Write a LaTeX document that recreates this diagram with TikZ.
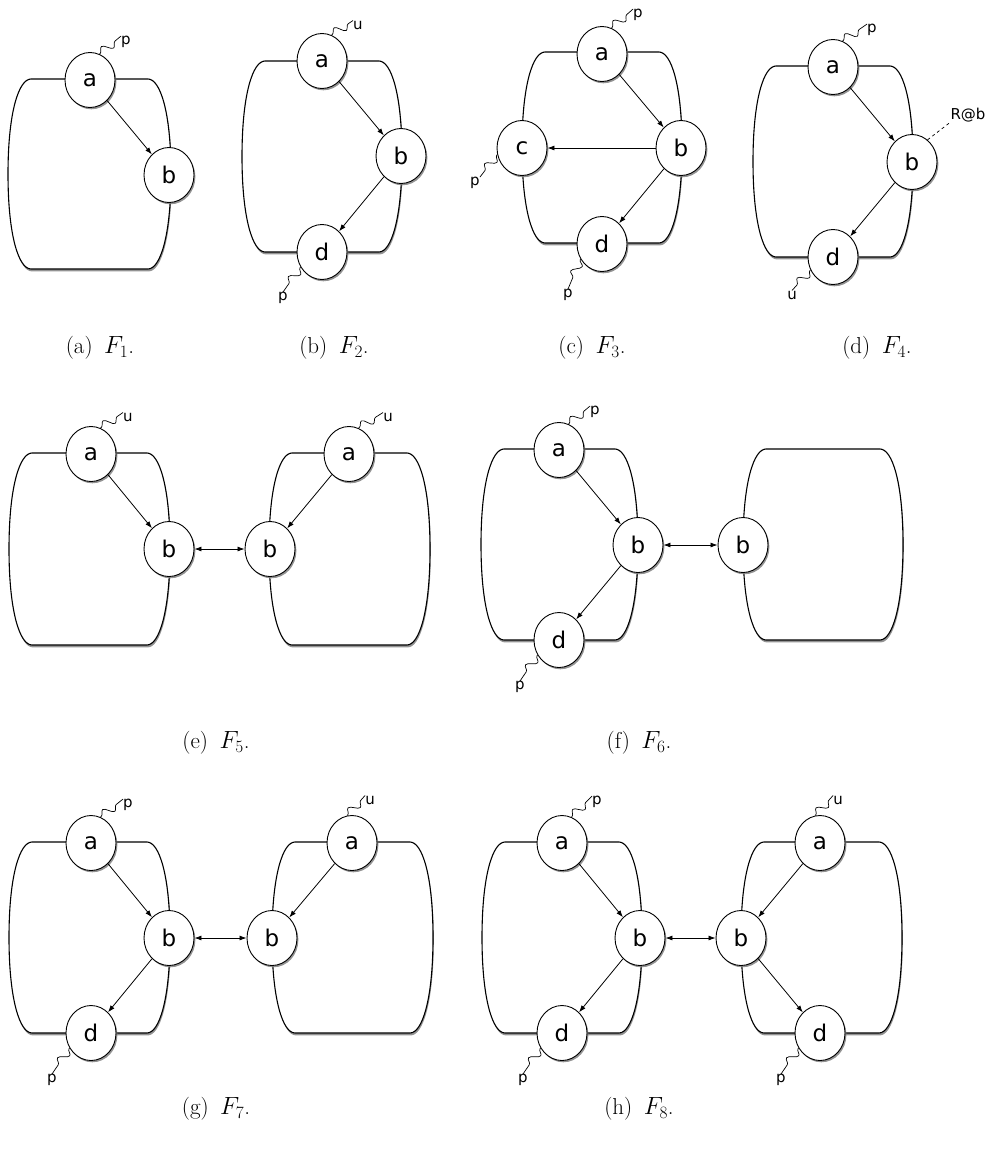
\documentclass[tikz,border=0pt]{standalone}
\usepackage{fontspec}
\newfontfamily\nodefont{DejaVu Sans}
\usepackage{tikz}
\usetikzlibrary{shapes.geometric, arrows.meta, positioning, calc, shadows, decorations.pathmorphing}
\tikzset{
	box/.style      ={draw=black, line width=1.1pt, fill=white, drop shadow={shadow xshift=0.8pt, shadow yshift=-2.4pt, opacity=0.85}},
	st/.style       ={ellipse, draw=black, line width=0.9pt, fill=white, minimum width=50pt, minimum height=55pt, inner sep=0pt, font=\nodefont\fontsize{23}{23}\selectfont, drop shadow={shadow xshift=1.4pt, shadow yshift=-1.8pt, opacity=0.85}},
	lbl/.style      ={font=\nodefont\fontsize{15}{15}\selectfont, inner sep=0pt},
	subcap/.style   ={font=\fontsize{23}{27}\selectfont},
	flowarrow/.style={-{Latex[length=7pt,width=5pt]}, line width=0.8pt},
	linkarrow/.style={{Latex[length=7pt,width=5pt]}-{Latex[length=7pt,width=5pt]}, line width=0.8pt},
	wave/.style     ={decorate, decoration={snake, amplitude=4.5pt, segment length=17pt, pre length=1pt, post length=4pt}, line width=0.7pt},
}
% barrel-shaped region: left, right, top, bottom
\newcommand{\barrel}[4]{%
	\draw[box] ({#1+23},#3) -- ({#2-23},#3)
		.. controls ({#2-11},#3) and (#2,{#3+0.17*(#4-#3)}) .. (#2,{(#3+#4)/2})
		.. controls (#2,{#4-0.17*(#4-#3)}) and ({#2-11},#4) .. ({#2-23},#4)
		-- ({#1+23},#4)
		.. controls ({#1+11},#4) and (#1,{#4-0.17*(#4-#3)}) .. (#1,{(#3+#4)/2})
		.. controls (#1,{#3+0.17*(#4-#3)}) and ({#1+11},#3) .. cycle;}

\begin{document}
\begin{tikzpicture}[x=1pt, y=-1pt]
	\useasboundingbox (0,0) rectangle (995,1149);
	% F1
	\barrel{8}{171}{79}{269}
	\node[st] (a1) at (90,80) {a};
	\node[st] (b1) at (169,175) {b};
	\node[lbl] (p1) at ([shift={(36,-38)}]a1) {p};
	\draw[flowarrow] (a1) -- (b1);
	\draw[wave] (a1.70) -- (p1.north west);
	\node[subcap] (cap1) at (100,348) {(a)\hspace{0.5em}$F_1$.};
	% F2
	\barrel{242}{402}{61}{252}
	\node[st] (a2) at (322,61) {a};
	\node[st] (b2) at (401,156) {b};
	\node[st] (d2) at (322,252) {d};
	\node[lbl] (u2) at ([shift={(36,-36)}]a2) {u};
	\node[lbl] (p2) at ([shift={(-39,46)}]d2) {p};
	\draw[flowarrow] (a2) -- (b2); \draw[flowarrow] (b2) -- (d2);
	\draw[wave] (a2.70) -- (u2.north west); \draw[wave] (d2.215) -- (p2.north);
	\node[subcap] (cap2) at (334,348) {(b)\hspace{0.5em}$F_2$.};
	% F3
	\barrel{522}{682}{52}{243}
	\node[st] (a3) at (602,54) {a};
	\node[st] (b3) at (681,148) {b};
	\node[st] (c3) at (522,148) {c};
	\node[st] (d3) at (602,244) {d};
	\node[lbl] (p3a) at ([shift={(36,-39)}]a3) {p};
	\node[lbl] (p3c) at ([shift={(-47,35)}]c3) {p};
	\node[lbl] (p3d) at ([shift={(-34,51)}]d3) {p};
	\draw[flowarrow] (a3) -- (b3); \draw[flowarrow] (b3) -- (c3); \draw[flowarrow] (b3) -- (d3);
	\draw[wave] (a3.70) -- (p3a.north west); \draw[wave] (c3.195) -- (p3c.north east); \draw[wave] (d3.215) -- (p3d.north);
	\node[subcap] (cap3) at (592,348) {(c)\hspace{0.5em}$F_3$.};
	% F4
	\barrel{753}{913}{66}{257}
	\node[st] (a4) at (833,67) {a};
	\node[st] (b4) at (912,162) {b};
	\node[st] (d4) at (833,257) {d};
	\node[lbl] (p4) at ([shift={(39,-37)}]a4) {p};
	\node[lbl] (u4) at ([shift={(-41,38)}]d4) {u};
	\node[lbl] (r4) at ([shift={(56,-47)}]b4) {R@b};
	\draw[flowarrow] (a4) -- (b4); \draw[flowarrow] (b4) -- (d4);
	\draw[wave] (a4.70) -- (p4.north west); \draw[wave] (d4.210) -- (u4.north);
	\draw[dashed, line width=0.7pt] (b4.55) -- (r4.south west);
	\node[subcap] (cap4) at (877,348) {(d)\hspace{0.5em}$F_4$.};
	% F5
	\barrel{9}{170}{453}{645} \barrel{269}{430}{453}{645}
	\node[st] (a5) at (91,454) {a};
	\node[st] (b5) at (169,549) {b};
	\node[st] (a5r) at (349,454) {a};
	\node[st] (b5r) at (270,549) {b};
	\node[lbl] (u5) at ([shift={(37,-37)}]a5) {u};
	\node[lbl] (u5r) at ([shift={(39,-37)}]a5r) {u};
	\draw[flowarrow] (a5) -- (b5); \draw[flowarrow] (a5r) -- (b5r);
	\draw[linkarrow] (b5) -- (b5r);
	\draw[wave] (a5.70) -- (u5.north west); \draw[wave] (a5r.70) -- (u5r.north west);
	\node[subcap] (cap5) at (216,743) {(e)\hspace{0.5em}$F_5$.};
	% F6
	\barrel{481}{638}{449}{640} \barrel{743}{903}{449}{640}
	\node[st] (a6) at (559,450) {a};
	\node[st] (b6) at (638,545) {b};
	\node[st] (d6) at (559,640) {d};
	\node[st] (b6r) at (743,545) {b};
	\node[lbl] (p6a) at ([shift={(36,-38)}]a6) {p};
	\node[lbl] (p6d) at ([shift={(-39,47)}]d6) {p};
	\draw[flowarrow] (a6) -- (b6); \draw[flowarrow] (b6) -- (d6);
	\draw[linkarrow] (b6) -- (b6r);
	\draw[wave] (a6.70) -- (p6a.north west); \draw[wave] (d6.215) -- (p6d.north);
	\node[subcap] (cap6) at (639,743) {(f)\hspace{0.5em}$F_6$.};
	% F7
	\barrel{9}{170}{842}{1033} \barrel{272}{433}{842}{1033}
	\node[st] (a7) at (91,843) {a};
	\node[st] (b7) at (169,938) {b};
	\node[st] (d7) at (91,1033) {d};
	\node[st] (a7r) at (352,843) {a};
	\node[st] (b7r) at (272,938) {b};
	\node[lbl] (p7a) at ([shift={(37,-38)}]a7) {p};
	\node[lbl] (p7d) at ([shift={(-39,47)}]d7) {p};
	\node[lbl] (u7r) at ([shift={(18,-43)}]a7r) {u};
	\draw[flowarrow] (a7) -- (b7); \draw[flowarrow] (b7) -- (d7); \draw[flowarrow] (a7r) -- (b7r);
	\draw[linkarrow] (b7) -- (b7r);
	\draw[wave] (a7.70) -- (p7a.north west); \draw[wave] (d7.215) -- (p7d.north); \draw[wave] (a7r.100) -- (u7r.north west);
	\node[subcap] (cap7) at (216,1109) {(g)\hspace{0.5em}$F_7$.};
	% F8
	\barrel{482}{642}{842}{1033} \barrel{741}{902}{842}{1033}
	\node[st] (a8) at (562,843) {a};
	\node[st] (b8) at (640,938) {b};
	\node[st] (d8) at (562,1033) {d};
	\node[st] (a8r) at (820,843) {a};
	\node[st] (b8r) at (741,938) {b};
	\node[st] (d8r) at (820,1033) {d};
	\node[lbl] (p8a) at ([shift={(35,-41)}]a8) {p};
	\node[lbl] (p8d) at ([shift={(-39,47)}]d8) {p};
	\node[lbl] (u8r) at ([shift={(18,-43)}]a8r) {u};
	\node[lbl] (p8r) at ([shift={(-39,47)}]d8r) {p};
	\draw[flowarrow] (a8) -- (b8); \draw[flowarrow] (b8) -- (d8);
	\draw[flowarrow] (a8r) -- (b8r); \draw[flowarrow] (b8r) -- (d8r);
	\draw[linkarrow] (b8) -- (b8r);
	\draw[wave] (a8.70) -- (p8a.north west); \draw[wave] (d8.215) -- (p8d.north);
	\draw[wave] (a8r.100) -- (u8r.north west); \draw[wave] (d8r.215) -- (p8r.north);
	\node[subcap] (cap8) at (639,1109) {(h)\hspace{0.5em}$F_8$.};
\end{tikzpicture}
\end{document}
